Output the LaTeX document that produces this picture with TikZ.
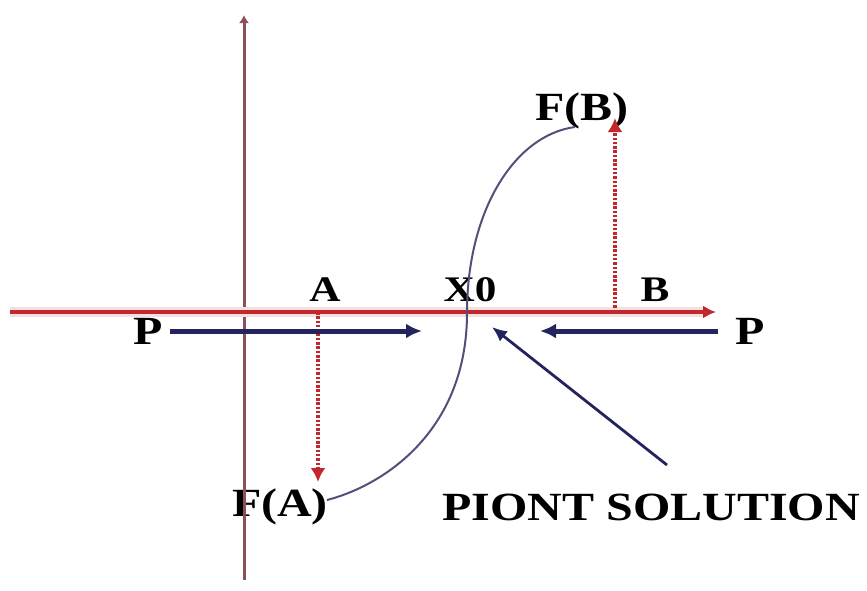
\documentclass[tikz,border=0pt]{standalone}
\usepackage{fontspec}
\setmainfont{Liberation Serif}
\usetikzlibrary{arrows.meta}
\definecolor{axred}{HTML}{C0282D}
\definecolor{axbrown}{HTML}{8E5058}
\definecolor{navy}{HTML}{23245E}
\definecolor{curvecol}{HTML}{50507A}
\begin{document}
\begin{tikzpicture}[x=1pt,y=-1pt,
  lbl/.style={font=\fontsize{40}{40}\selectfont\bfseries, xscale=1.2, inner sep=0pt},
  smalllbl/.style={font=\fontsize{36}{36}\selectfont\bfseries, xscale=1.2, inner sep=0pt},
  bluearrow/.style={navy, line width=5pt, -{Latex[length=16pt,width=15pt]}},
  dotarrow/.style={axred, line width=4pt, dash pattern=on 2.5pt off 1.8pt, -{Latex[length=14pt,width=15pt]}},
]
\useasboundingbox (0,0) rectangle (867,590);
% coordinates
\coordinate (vtop) at (244,15);
\coordinate (vbot) at (244,580);
\coordinate (hleft) at (10,312);
\coordinate (hright) at (716,312);
\coordinate (Abase) at (318,312);
\coordinate (Atip) at (318,482);
\coordinate (Bbase) at (615,312);
\coordinate (Btip) at (615,118);
\coordinate (blueLstart) at (170,331);
\coordinate (blueLend) at (422,331);
\coordinate (blueRstart) at (718,331);
\coordinate (blueRend) at (540,331);
\coordinate (ptrstart) at (667,465);
\coordinate (ptrend) at (492,327);
\coordinate (cA) at (327,500);
\coordinate (cX) at (467,313);
\coordinate (cB) at (575,127);
% labels
\node[lbl] (PL) at (148,331) {P};
\node[lbl] (PR) at (750,331) {P};
\node[smalllbl] (A) at (325,290) {A};
\node[smalllbl] (X0) at (470,290) {X0};
\node[smalllbl] (B) at (655,290) {B};
\node[lbl] (FB) at (582,111) {F(B)};
\node[lbl] (FA) at (280,507) {F(A)};
\node[lbl] (PS) at (651,507) {PIONT SOLUTION};
% axes
\draw[axbrown, line width=3pt, -{Latex[length=8pt,width=10pt]}] (vbot) -- (vtop);
\draw[axred!15, line width=10pt] (hleft) -- ([xshift=-12pt]hright);
\draw[axred, line width=4.5pt, -{Latex[length=13pt,width=13pt]}] (hleft) -- (hright);
% curve
\draw[curvecol, line width=2pt] (cA) .. controls (385,485) and (467,430) .. (cX)
  .. controls (467,210) and (515,135) .. (cB);
% dotted arrows
\draw[dotarrow] (Abase) -- (Atip);
\draw[dotarrow] (Bbase) -- (Btip);
% blue arrows
\draw[bluearrow] (blueLstart) -- (blueLend);
\draw[bluearrow] (blueRstart) -- (blueRend);
% pointer
\draw[navy, line width=2.8pt, -{Latex[length=15pt,width=13pt]}] (ptrstart) -- (ptrend);
\end{tikzpicture}
\end{document}
